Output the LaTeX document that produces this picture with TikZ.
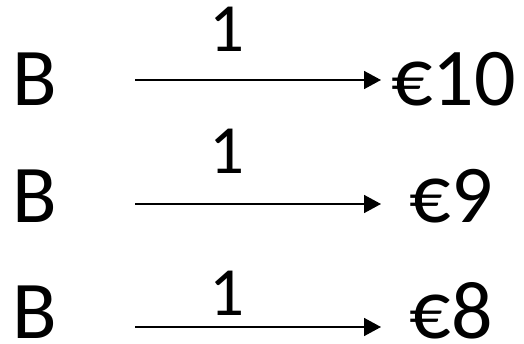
\documentclass[tikz,border=0pt]{standalone}
\usepackage{fontspec}
\setmainfont{Carlito}
\usetikzlibrary{arrows.meta}
\begin{document}
\begin{tikzpicture}[x=1pt,y=1pt,
  big/.style={font=\fontsize{82}{96}\selectfont, inner sep=0pt, anchor=base},
  lab/.style={font=\fontsize{69}{80}\selectfont, inner sep=0pt, anchor=base},
  arr/.style={line width=1.6pt, -{Triangle[length=17pt,width=18pt]}}]
\useasboundingbox (0,0) rectangle (524,-344);
% row 1
\node[big] (b1) at (35,-106) {B};
\node[big] (e1) at (453.5,-106) {€10};
\node[lab] (l1) at (226.5,-52) {1};
\coordinate (s1) at (135,-80);
\coordinate (t1) at (381,-80);
\draw[arr] (s1) -- (t1);
% row 2
\node[big] (b2) at (35,-223) {B};
\node[big] (e2) at (451,-223) {€9};
\node[lab] (l2) at (226.5,-174) {1};
\coordinate (s2) at (135,-204);
\coordinate (t2) at (381,-204);
\draw[arr] (s2) -- (t2);
% row 3
\node[big] (b3) at (35,-338) {B};
\node[big] (e3) at (451,-338) {€8};
\node[lab] (l3) at (226.5,-315) {1};
\coordinate (s3) at (135,-327);
\coordinate (t3) at (381,-327);
\draw[arr] (s3) -- (t3);
\end{tikzpicture}
\end{document}
